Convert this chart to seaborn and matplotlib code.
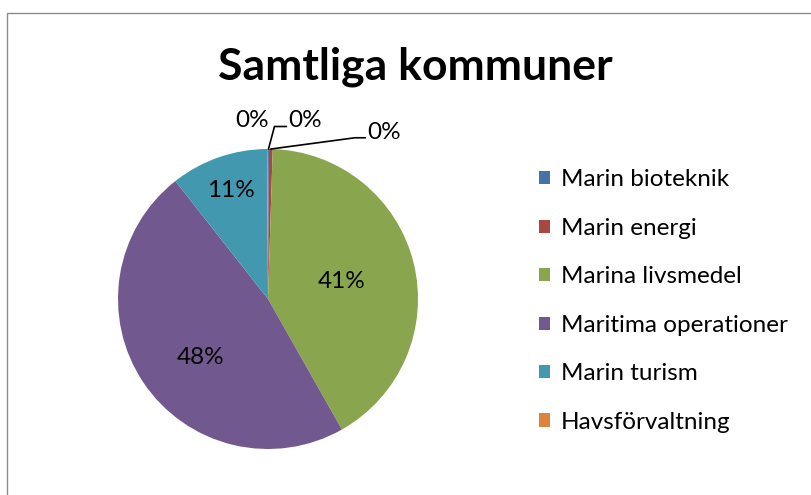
import numpy as np
import matplotlib
matplotlib.use("Agg")
import matplotlib.pyplot as plt
from matplotlib.patches import Rectangle
import seaborn as sns

# data
kategorier = ['Marin bioteknik', 'Marin energi', 'Marina livsmedel',
              'Maritima operationer', 'Marin turism', 'Havsförvaltning']
andelar = [0.1, 0.4, 41.3, 47.6, 10.5, 0.1]
etiketter = ['0%', '0%', '41%', '48%', '11%', '0%']

sns.set_theme(style="white")
plt.rcParams['font.family'] = ['Lato', 'DejaVu Sans']
plt.rcParams['text.color'] = 'black'

farger = sns.color_palette(['#4572A7', '#AA4643', '#89A54E', '#71588F', '#4198AF', '#DB843D'])

W, H = 811, 495
fig = plt.figure(figsize=(W / 100, H / 100), dpi=100)
fig.patch.set_facecolor('white')

# ram runt diagrammet
fig.add_artist(Rectangle((7 / W, -0.1), 2, (H - 13) / H + 0.1, transform=fig.transFigure,
                         fill=False, edgecolor='#8c8c8c', linewidth=1))

# cirkeldiagram
cx, cy, r = 268, 299, 150
ax = fig.add_axes([(cx - r) / W, (H - cy - r) / H, 2 * r / W, 2 * r / H])
wedges, _ = ax.pie(andelar, colors=farger, startangle=90, counterclock=False,
                   wedgeprops=dict(linewidth=0))
ax.set_xlim(-1, 1)
ax.set_ylim(-1, 1)
ax.set_aspect('equal')
ax.axis('off')

fs = 17.5

# procentetiketter inne i tårtbitarna (placering i axelkoordinater, radie = 1)
placering = {2: (0.49, 0.12), 3: (-0.45, -0.39), 4: (-0.25, 0.72)}
for i, (px, py) in placering.items():
    ax.text(px, py, etiketter[i], ha='center', va='center', fontsize=fs, color='black')

# små andelar med ledlinjer
def kant(w):
    mid = np.deg2rad((w.theta1 + w.theta2) / 2)
    return np.cos(mid), np.sin(mid)

# Havsförvaltning - ingen linje
x0, y0 = kant(wedges[5])
ax.text(x0 - 0.1, y0 + 0.19, etiketter[5], ha='center', va='center', fontsize=fs)

# Marin bioteknik
x0, y0 = kant(wedges[0])
ax.plot([x0, x0 + 0.04, x0 + 0.12], [y0, y0 + 0.15, y0 + 0.15], color='black', lw=1.2,
        clip_on=False)
ax.text(x0 + 0.13, y0 + 0.19, etiketter[0], ha='left', va='center', fontsize=fs)

# Marin energi
x0, y0 = kant(wedges[1])
ax.plot([x0, x0 + 0.56, x0 + 0.63], [y0, y0 + 0.075, y0 + 0.075], color='black', lw=1.2,
        clip_on=False)
ax.text(x0 + 0.64, y0 + 0.11, etiketter[1], ha='left', va='center', fontsize=fs)

# rubrik
fig.text(415 / W, 1 - 67 / H, 'Samtliga kommuner', ha='center', va='center',
         fontsize=32, fontweight='bold', color='black')

# legend
leg = fig.legend(wedges, kategorier, loc='center left', bbox_to_anchor=(529 / W, 1 - 301 / H),
                 frameon=False, fontsize=fs, handlelength=0.45, handleheight=0.45,
                 handletextpad=0.45, labelspacing=1.13, borderaxespad=0)
for t in leg.get_texts():
    t.set_color('black')

fig.savefig('out.png', dpi=100, facecolor='white')
